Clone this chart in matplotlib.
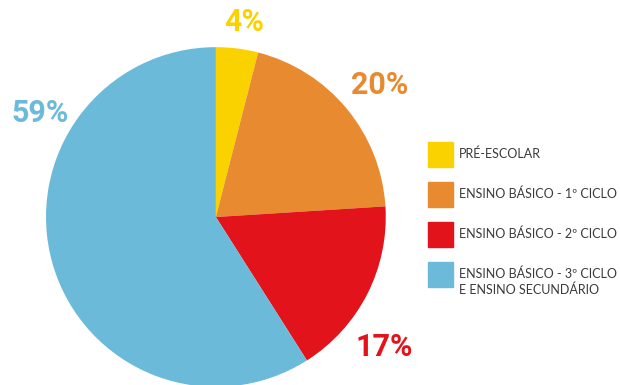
import matplotlib.pyplot as plt
from matplotlib.patches import Rectangle
import numpy as np

categorias = ['PRÉ-ESCOLAR', 'ENSINO BÁSICO - 1º CICLO', 'ENSINO BÁSICO - 2º CICLO',
              'ENSINO BÁSICO - 3º CICLO\nE ENSINO SECUNDÁRIO']
valores = [4, 20, 17, 59]
cores = ['#FAD200', '#E78A30', '#E3131B', '#6CBAD9']

# posição (angulo, raio) de cada percentagem, fora da fatia
pos_rotulos = [(81.8, 1.16), (38.8, 1.24), (-37.6, 1.25), (149.4, 1.2)]

fig = plt.figure(figsize=(6.2, 3.85), dpi=100)
ax = fig.add_axes([0.0742, -0.0052, 0.548, 0.883])
ax.pie(valores, colors=cores, startangle=90, counterclock=False,
       wedgeprops=dict(linewidth=0))
ax.set_xlim(-1, 1)
ax.set_ylim(-1, 1)
ax.set_aspect('equal')
ax.set_clip_on(False)

for v, c, (ang, r) in zip(valores, cores, pos_rotulos):
    a = np.radians(ang)
    ax.text(r * np.cos(a), r * np.sin(a), f'{v}%', color=c, fontsize=22,
            fontweight='bold', family='Roboto', ha='center', va='center',
            clip_on=False)

# legenda
W, H = 620, 385
y0 = 155
for i, (cat, c) in enumerate(zip(categorias, cores)):
    y = y0 + i * 40
    fig.patches.append(Rectangle((428 / W, 1 - (y + 12) / H), 25 / W, 25 / H,
                                 transform=fig.transFigure, color=c))
    fig.text(459 / W, 1 - (y - 7) / H, cat, fontsize=9.0, family='Lato',
             color='#3a3a3a', va='top', ha='left', linespacing=1.3)

fig.savefig('out.png', dpi=100)
